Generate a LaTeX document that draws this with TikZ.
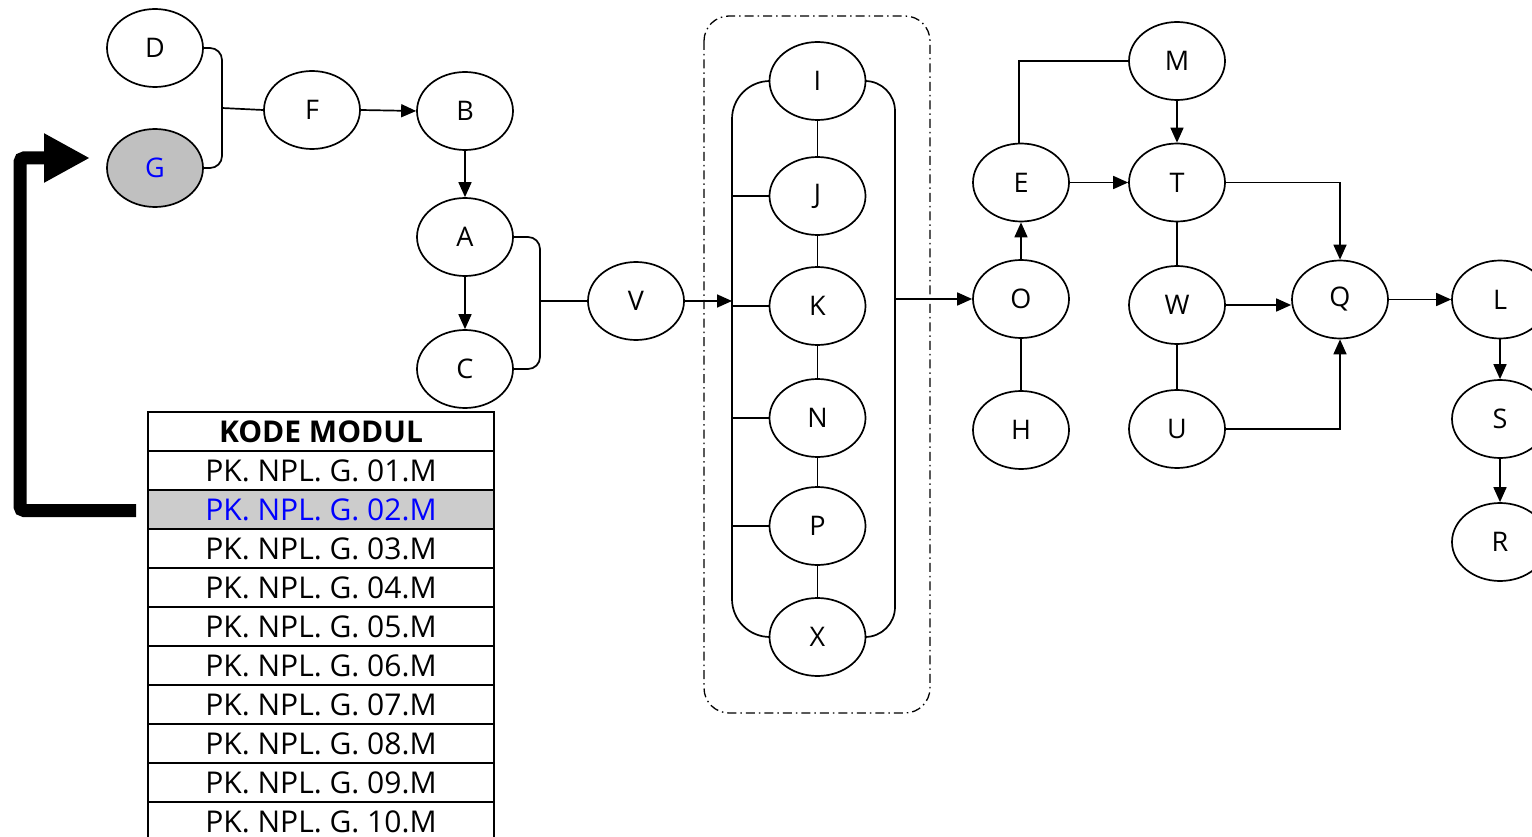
\documentclass[tikz,border=0pt]{standalone}
\usepackage{fontspec}
\setmainfont{Open Sans}
\usetikzlibrary{shapes.geometric,arrows.meta,calc}
\definecolor{nodegray}{RGB}{192,192,192}
\definecolor{rowgray}{RGB}{204,204,204}
\definecolor{linkblue}{RGB}{0,0,255}
\begin{document}
\begin{tikzpicture}[x=1pt,y=-1pt,
  el/.style={ellipse,draw,line width=1.7pt,minimum width=96pt,minimum height=78pt,inner sep=0pt,font=\fontsize{27}{30}\selectfont},
  ln/.style={line width=1.7pt},
  arr/.style={line width=1.7pt,-{Triangle[length=15pt,width=13pt]}},
  row/.style={rectangle,draw,line width=1.7pt,minimum width=346pt,minimum height=39pt,inner sep=0pt,font=\fontsize{30}{32}\selectfont},
]
\useasboundingbox (0,0) rectangle (1532,837);
% nodes
\node[el] (D) at (155,48) {D};
\node[el,fill=nodegray,text=linkblue] (G) at (155,168) {G};
\node[el] (F) at (312,110) {F};
\node[el] (B) at (465,111) {B};
\node[el] (A) at (465,237) {A};
\node[el] (C) at (465,369) {C};
\node[el] (V) at (636,301) {V};
\node[el] (I) at (817.5,81) {I};
\node[el] (J) at (817.5,196) {J};
\node[el] (K) at (817.5,306) {K};
\node[el] (N) at (817.5,418) {N};
\node[el] (P) at (817.5,526) {P};
\node[el] (X) at (817.5,637) {X};
\node[el] (E) at (1021,182.5) {E};
\node[el] (M) at (1177,61) {M};
\node[el] (T) at (1177,182.5) {T};
\node[el] (O) at (1021,299) {O};
\node[el] (H) at (1021,430) {H};
\node[el] (W) at (1177,305) {W};
\node[el] (U) at (1177,429) {U};
\node[el] (Q) at (1340,299.5) {Q};
\node[el] (L) at (1500,299.5) {L};
\node[el] (S) at (1500,419) {S};
\node[el] (R) at (1500,542) {R};
% helper coordinates
\coordinate (dg) at (222,108);
\coordinate (ac) at (540,301);
\coordinate (lr) at (732,300);
\coordinate (rr) at (895,300);
\coordinate (gt) at (90,158);
% D/G bracket
\draw[ln,rounded corners=12pt] (D.east) -| (dg) |- (G.east);
\draw[ln] (dg) -- (F.west);
\draw[arr] (F.east) -- (B.west);
\draw[arr] (B.south) -- (A.north);
\draw[arr] (A.south) -- (C.north);
% A/C bracket
\draw[ln,rounded corners=12pt] (A.east) -| (ac) |- (C.east);
\draw[ln] (ac) -- (V.west);
\draw[arr] (V.east) -- (V.east -| lr);
% inner group rails
\draw[ln,rounded corners=38pt] (I.west) -| (lr |- X.west) -- (X.west);
\draw[ln,rounded corners=30pt] (I.east) -| (rr |- X.east) -- (X.east);
\foreach \n in {J,K,N,P} \draw[ln] (\n.west -| lr) -- (\n.west);
\draw[ln] (I) -- (J) -- (K) -- (N) -- (P) -- (X);
\draw[arr] (O.west -| rr) -- (O.west);
% dash-dot group
\draw[line width=1.3pt,dash pattern=on 9pt off 4pt on 1.5pt off 4pt,rounded corners=25pt] (704,16) rectangle (930,713);
% right part
\draw[arr] (O.north) -- (E.south);
\draw[ln] (O.south) -- (H.north);
\draw[ln] ([xshift=-2pt]E.north) |- (M.west);
\draw[arr] (E.east) -- (T.west);
\draw[arr] (M.south) -- (T.north);
\draw[ln] (T.south) -- (W.north);
\draw[ln] (W.south) -- (U.north);
\draw[arr] (T.east) -| (Q.north);
\draw[arr] (W.east) -- (W.east -| Q.west);
\draw[arr] (U.east) -| (Q.south);
\draw[arr] (Q.east) -- (L.west);
\draw[arr] (L.south) -- (S.north);
\draw[arr] (S.south) -- (R.north);
% table
\node[row,font=\bfseries\fontsize{30}{32}\selectfont] (hdr) at (321,431.5) {KODE MODUL};
\node[row] (r1) at (321,470.5) {PK. NPL. G. 01.M};
\node[row,fill=rowgray,text=linkblue] (r2) at (321,509.5) {PK. NPL. G. 02.M};
\node[row] (r3) at (321,548.5) {PK. NPL. G. 03.M};
\node[row] (r4) at (321,587.5) {PK. NPL. G. 04.M};
\node[row] (r5) at (321,626.5) {PK. NPL. G. 05.M};
\node[row] (r6) at (321,665.5) {PK. NPL. G. 06.M};
\node[row] (r7) at (321,704.5) {PK. NPL. G. 07.M};
\node[row] (r8) at (321,743.5) {PK. NPL. G. 08.M};
\node[row] (r9) at (321,782.5) {PK. NPL. G. 09.M};
\node[row] (r10) at (321,821.5) {PK. NPL. G. 10.M};
% thick arrow
\draw[line width=13pt,rounded corners=4pt,-{Triangle[length=46pt,width=46pt]}] ([xshift=-11pt,yshift=-1pt]r2.west) -| (20,300) |- (gt);
\end{tikzpicture}
\end{document}
